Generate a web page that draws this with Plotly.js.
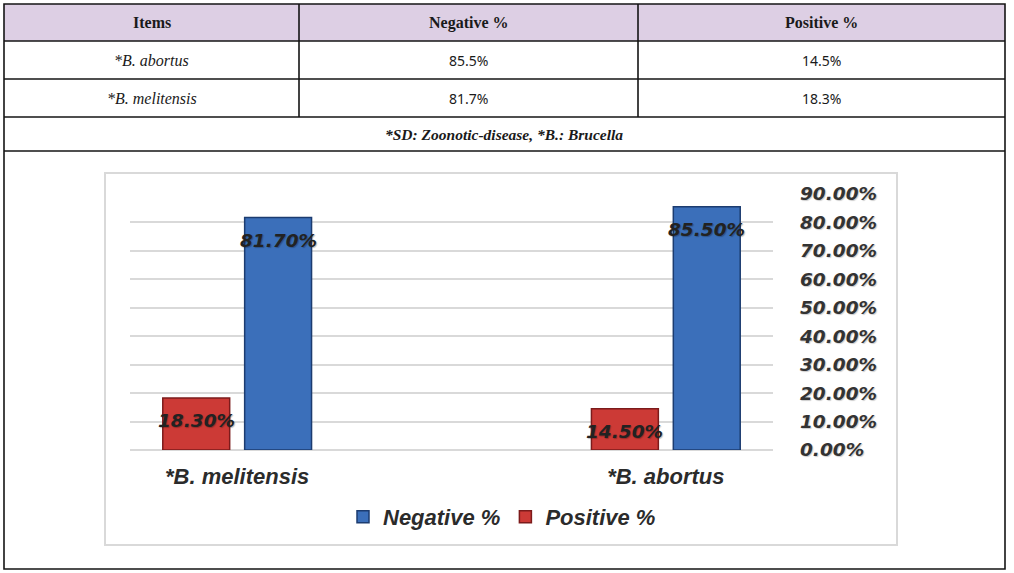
<!DOCTYPE html>
<html>
<head>
<meta charset="utf-8">
<script src="https://cdn.plot.ly/plotly-3.0.1.min.js"></script>
<style>
  html, body { margin: 0; padding: 0; background: #fff; }
  #chart { width: 1014px; height: 573px; }
</style>
</head>
<body>
<div id="chart"></div>
<script>
// Brucella seroprevalence: negative vs positive share per species
const categories = ['*B. melitensis', '*B. abortus'];
const negativePct = [81.7, 85.5];
const positivePct = [18.3, 14.5];

// Summary table (rows in table order)
const tableHeaders = ['Items', 'Negative %', 'Positive %'];
const tableRows = ['*B. abortus', '*B. melitensis'];
const footnote = '*SD: Zoonotic-disease, *B.: Brucella';

const yTicks = [0, 10, 20, 30, 40, 50, 60, 70, 80, 90];

// Plot area in page pixels
const PL = 130, PR = 773, PT = 194, PB = 450;
const W = 1014, H = 573;
const px = x => (x - PL) / (PR - PL);
const py = y => (PB - y) / (PB - PT);

const BLUE = '#3b6fba', BLUE_EDGE = '#1c3c70';
const RED = '#cc3a36', RED_EDGE = '#7c1b1b';

const traces = [
  {
    type: 'bar', name: 'Positive %', x: categories, y: positivePct,
    marker: { color: RED, line: { color: RED_EDGE, width: 1.5 } },
    legendrank: 2, hoverinfo: 'skip'
  },
  {
    type: 'bar', name: 'Negative %', x: categories, y: negativePct,
    marker: { color: BLUE, line: { color: BLUE_EDGE, width: 1.5 } },
    legendrank: 1, hoverinfo: 'skip'
  }
];

const labelFont = {
  family: 'DejaVu Sans', size: 18.5, color: '#222', weight: 'bold', style: 'italic',
  shadow: '1px 1px 1px rgba(0,0,0,0.25)'
};

const annotations = [];
// value labels sitting just inside the top of each bar
[[positivePct, -41], [negativePct, 41]].forEach(([vals, shift]) => {
  vals.forEach((v, i) => {
    annotations.push({
      x: categories[i], y: v, xref: 'x', yref: 'y',
      xshift: shift, yshift: -23, showarrow: false,
      xanchor: 'center', yanchor: 'middle',
      text: v.toFixed(2) + '%', font: labelFont
    });
  });
});

// table text
const colEdges = [4, 299, 638, 1005];
const headerFont = { family: 'Liberation Serif', size: 16, color: '#1a1a1a', weight: 'bold' };
tableHeaders.forEach((t, c) => {
  annotations.push({
    xref: 'paper', yref: 'paper', x: px((colEdges[c] + colEdges[c + 1]) / 2), y: py(22.5),
    text: t, showarrow: false, xanchor: 'center', yanchor: 'middle', font: headerFont
  });
});
const rowCentersY = [60, 98.5];
tableRows.forEach((name, r) => {
  const idx = categories.indexOf(name);
  const cells = [name, negativePct[idx].toFixed(1) + '%', positivePct[idx].toFixed(1) + '%'];
  cells.forEach((t, c) => {
    const font = c === 0
      ? { family: 'Liberation Serif', size: 16, color: '#1a1a1a', style: 'italic' }
      : { family: 'Noto Sans', size: 14, color: '#1a1a1a' };
    annotations.push({
      xref: 'paper', yref: 'paper', x: px((colEdges[c] + colEdges[c + 1]) / 2), y: py(rowCentersY[r]),
      text: t, showarrow: false, xanchor: 'center', yanchor: 'middle', font: font
    });
  });
});
annotations.push({
  xref: 'paper', yref: 'paper', x: px((colEdges[0] + colEdges[3]) / 2), y: py(134.5),
  text: footnote, showarrow: false, xanchor: 'center', yanchor: 'middle',
  font: { family: 'Liberation Serif', size: 15.5, color: '#1a1a1a', weight: 'bold', style: 'italic' }
});

// table grid and chart frame
const LINE = { color: '#141414', width: 1.6 };
const hLine = y => ({ type: 'line', xref: 'paper', yref: 'paper', x0: px(4), x1: px(1005), y0: py(y), y1: py(y), line: LINE });
const vLine = x => ({ type: 'line', xref: 'paper', yref: 'paper', x0: px(x), x1: px(x), y0: py(4), y1: py(117), line: LINE });
const shapes = [
  { type: 'rect', xref: 'paper', yref: 'paper', x0: px(4), x1: px(1005), y0: py(4), y1: py(41),
    fillcolor: '#ddcfe4', line: { width: 0 }, layer: 'below' },
  { type: 'rect', xref: 'paper', yref: 'paper', x0: px(105), x1: px(897), y0: py(173), y1: py(545),
    fillcolor: 'rgba(0,0,0,0)', line: { color: '#d9d9d9', width: 2 }, layer: 'below' },
  hLine(41), hLine(79), hLine(117), hLine(151),
  vLine(299), vLine(638),
  { type: 'rect', xref: 'paper', yref: 'paper', x0: px(4), x1: px(1005), y0: py(4), y1: py(569),
    fillcolor: 'rgba(0,0,0,0)', line: LINE }
];

const layout = {
  width: W, height: H,
  margin: { l: PL, r: W - PR, t: PT, b: H - PB, pad: 0 },
  paper_bgcolor: '#fff', plot_bgcolor: '#fff',
  barmode: 'group', bargap: 0.618, bargroupgap: 0.183,
  showlegend: true,
  legend: {
    orientation: 'h', x: px(343), xanchor: 'left', y: py(517), yanchor: 'middle',
    font: { family: 'Liberation Sans', size: 22, color: '#2b2b2b', weight: 'bold', style: 'italic' },
    bgcolor: 'rgba(0,0,0,0)', traceorder: 'normal'
  },
  xaxis: {
    type: 'category', range: [-0.25, 1.25], showgrid: false, zeroline: false, showline: false,
    ticks: '', ticklabelstandoff: 11,
    tickfont: { family: 'Liberation Sans', size: 22, color: '#2b2b2b', weight: 'bold', style: 'italic' }
  },
  yaxis: {
    side: 'right', range: [0, 90], tickvals: yTicks,
    ticktext: yTicks.map(v => v.toFixed(2) + '%'),
    showgrid: true, gridcolor: '#d9d9d9', gridwidth: 2,
    zeroline: true, zerolinecolor: '#d9d9d9', zerolinewidth: 2,
    showline: false, ticks: '', ticklabelstandoff: 26,
    tickfont: { family: 'DejaVu Sans', size: 18.5, color: '#333', weight: 'bold', style: 'italic',
                shadow: '1px 1px 1px rgba(0,0,0,0.2)' }
  },
  shapes: shapes,
  annotations: annotations
};

Plotly.newPlot('chart', traces, layout, { staticPlot: true, displayModeBar: false });
</script>
</body>
</html>
